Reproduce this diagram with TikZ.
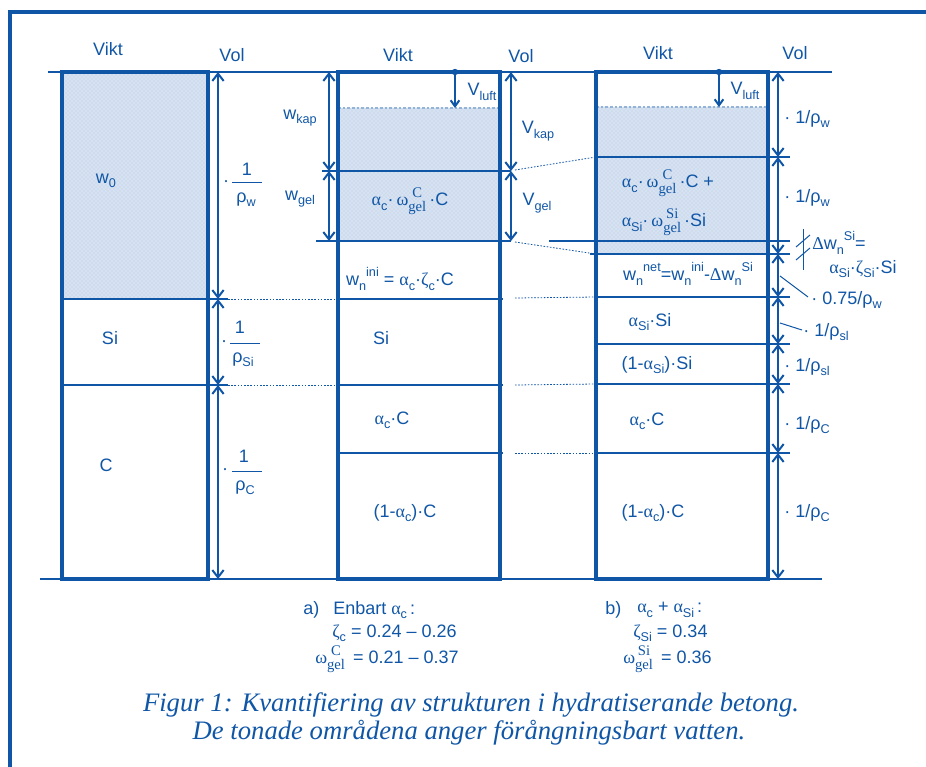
\documentclass[tikz,border=0pt]{standalone}
\usepackage{fontspec}
\setmainfont{Liberation Sans}
\newfontfamily\ser{Liberation Serif}
\usetikzlibrary{arrows.meta,patterns}
\definecolor{bl}{RGB}{16,86,166}
\definecolor{hatchc}{RGB}{214,226,241}
\newcommand\ga{{\ser α}}
\newcommand\gz{{\ser ζ}}
\newcommand\gw{{\ser ω}}
\newcommand\gD{{\ser Δ}}
\newcommand\SB[1]{\raisebox{-0.45ex}{\fontsize{9.5}{10}\selectfont #1}}
\newcommand\SP[1]{\raisebox{0.95ex}{\fontsize{9.5}{10}\selectfont #1}}
\newcommand\OMG[1]{\gw\raisebox{-0.6ex}{\shortstack{{\fontsize{11}{11}\selectfont\ser #1}\\{\fontsize{11}{11}\selectfont\ser gel}}}}
\begin{document}
\begin{tikzpicture}[x=0.75pt,y=-0.75pt,
 box/.style={draw=bl,line width=2.8pt},
 lvl/.style={draw=bl,line width=1pt},
 dotl/.style={draw=bl,line width=0.6pt,dash pattern=on 1.2pt off 1.2pt},
 dim/.style={draw=bl,line width=1.5pt,{Straight Barb[length=5.5pt,width=8.5pt]}-{Straight Barb[length=5.5pt,width=8.5pt]}},
 luft/.style={draw=bl,line width=1.5pt,-{Straight Barb[length=4.5pt,width=6.5pt]}},
 txt/.style={text=bl,inner sep=0pt,font=\fontsize{13.5}{16}\selectfont},
 wet/.style={fill=hatchc,postaction={pattern=crosshatch dots,pattern color=bl!30}},
 topdash/.style={draw=bl!45,line width=0.8pt,dash pattern=on 2pt off 1.5pt},
 frame/.style={draw=bl,line width=2.5pt},
 thinl/.style={draw=bl,line width=0.75pt}]
\useasboundingbox (0,0) rectangle (926,767);
% frame
\draw[frame] (926,12) -- (10,12) -- (10,767);
% reference lines
\draw[lvl] (48,72) -- (832,72);
\draw[lvl] (40,579) -- (822,579);

% ---------- column 1 ----------
\fill[wet] (62,72) rectangle (208,299);
\draw[lvl] (62,299) -- (228,299);
\draw[dotl] (228,299) -- (338,299);
\draw[lvl] (62,385) -- (228,385);
\draw[dotl] (228,385) -- (338,385);
\draw[box] (62,72) rectangle (208,579);
\foreach \n/\y in {0/72,1/299,2/385,3/579} \coordinate (A\n) at (218,\y);
\draw[dim] (A0) -- (A1);
\draw[dim] (A1) -- (A2);
\draw[dim] (A2) -- (A3);
\node[txt] (v1) at (108,49) {Vikt};
\node[txt] (o1) at (232,55) {Vol};
\node[txt] (w0) at (106,181) {w\SB{0}};
\node[txt] (si1) at (110,338) {Si};
\node[txt] (c1) at (106,465) {C};
% fractions
\node[txt] (d1) at (226,184) {·};
\node[txt] (n1) at (247,169) {1};
\draw[thinl] (232,183) -- (262,183);
\node[txt] (r1) at (246,200) {ρ\SB{w}};
\node[txt] (d2) at (224,344) {·};
\node[txt] (n2) at (240,327) {1};
\draw[thinl] (230,343) -- (260,343);
\node[txt] (r2) at (243,360) {ρ\SB{Si}};
\node[txt] (d3) at (225,472) {·};
\node[txt] (n3) at (244,456) {1};
\draw[thinl] (232,471) -- (262,471);
\node[txt] (r3) at (245,488) {ρ\SB{C}};

% ---------- column 2 ----------
\fill[wet] (338,108) rectangle (500,241);
\draw[topdash] (338,108) -- (500,108);
\draw[lvl] (322,171) -- (511,171);
\draw[lvl] (316,241) -- (511,241);
\draw[lvl] (338,299) -- (503,299);
\draw[dotl] (515,298) -- (596,297);
\draw[lvl] (338,385) -- (503,385);
\draw[dotl] (515,385) -- (596,384);
\draw[lvl] (338,453) -- (503,453);
\draw[dotl] (515,453) -- (596,453);
\draw[dotl] (515,170) -- (596,157);
\draw[dotl] (515,242) -- (596,254);
\draw[box] (338,72) rectangle (500,579);
\foreach \n/\y in {0/72,1/171,2/241} {\coordinate (B\n) at (329,\y); \coordinate (C\n) at (511,\y);}
\draw[dim] (B0) -- (B1);
\draw[dim] (B1) -- (B2);
\draw[dim] (C0) -- (C1);
\draw[dim] (C1) -- (C2);
\coordinate (L2a) at (455,72);
\coordinate (L2b) at (455,108);
\fill[bl] (L2a) circle (3.2);
\draw[luft] (L2a) -- (L2b);
\node[txt] (v2) at (398,55) {Vikt};
\node[txt] (o2) at (521,56) {Vol};
\node[txt] (wk) at (300,118) {w\SB{kap}};
\node[txt] (wg) at (300,199) {w\SB{gel}};
\node[txt] (vl2) at (482,92) {V\SB{luft}};
\node[txt] (vk) at (538,131) {V\SB{kap}};
\node[txt] (vg) at (537,203) {V\SB{gel}};
\node[txt] (g2) at (410,201) {\ga\SB{c}·\,\OMG{C}\,·C};
\node[txt] (ini) at (400,279) {w\SB{n}\SP{ini} = \ga\SB{c}·\gz\SB{c}·C};
\node[txt] (si2) at (381,338) {Si};
\node[txt] (ac2) at (392,420) {\ga\SB{c}·C};
\node[txt] (mc2) at (405,513) {(1-\ga\SB{c})·C};

% ---------- column 3 ----------
\fill[wet] (596,107) rectangle (768,254);
\draw[topdash] (596,107) -- (768,107);
\draw[lvl] (596,157) -- (790,157);
\draw[lvl] (549,241) -- (790,241);
\draw[lvl] (590,254) -- (790,254);
\draw[lvl] (596,297) -- (790,297);
\draw[lvl] (596,344) -- (790,344);
\draw[lvl] (596,384) -- (790,384);
\draw[lvl] (596,453) -- (790,453);
\draw[box] (596,72) rectangle (768,579);
\foreach \n/\y in {0/72,1/157,2/254,3/297,4/344,5/384,6/453,7/579} \coordinate (D\n) at (778,\y);
\draw[dim] (D0) -- (D1);
\draw[dim] (D1) -- (D2);
\draw[dim] (D2) -- (D3);
\draw[dim] (D3) -- (D4);
\draw[dim] (D4) -- (D5);
\draw[dim] (D5) -- (D6);
\draw[dim] (D6) -- (D7);
\coordinate (L3a) at (719,72);
\coordinate (L3b) at (719,107);
\fill[bl] (L3a) circle (3.2);
\draw[luft] (L3a) -- (L3b);
% delta tick marks
\draw[thinl] (803,229) -- (803,270);
\draw[thinl] (796,247) -- (810,235);
\draw[thinl] (796,260) -- (810,248);
% leaders
\draw[thinl] (780,276) -- (808,297);
\draw[thinl] (780,323) -- (802,330);
\node[txt] (v3) at (658,53) {Vikt};
\node[txt] (o3) at (795,53) {Vol};
\node[txt] (vl3) at (745,91) {V\SB{luft}};
\node[txt,anchor=west] (p1) at (784,119) {· 1/ρ\SB{w}};
\node[txt,anchor=west] (p2) at (784,198) {· 1/ρ\SB{w}};
\node[txt,anchor=west] (dw) at (812,243) {\gD w\SB{n}\SP{Si}=};
\node[txt,anchor=west] (dw2) at (829,269) {\ga\SB{Si}·\gz\SB{Si}·Si};
\node[txt,anchor=west] (p3) at (811,300) {· 0.75/ρ\SB{w}};
\node[txt,anchor=west] (p4) at (803,332) {· 1/ρ\SB{sl}};
\node[txt,anchor=west] (p5) at (784,367) {· 1/ρ\SB{sl}};
\node[txt,anchor=west] (p6) at (784,425) {· 1/ρ\SB{C}};
\node[txt,anchor=west] (p7) at (784,513) {· 1/ρ\SB{C}};
\node[txt] (g3a) at (668,183) {\ga\SB{c}·\,\OMG{C}\,·C +};
\node[txt] (g3b) at (664,222) {\ga\SB{Si}·\,\OMG{Si}\,·Si};
\node[txt] (net) at (688,274) {w\SB{n}\SP{net}=w\SB{n}\SP{ini}-\gD w\SB{n}\SP{Si}};
\node[txt] (as3) at (650,322) {\ga\SB{Si}·Si};
\node[txt] (ms3) at (657,365) {(1-\ga\SB{Si})·Si};
\node[txt] (ac3) at (647,421) {\ga\SB{c}·C};
\node[txt] (mc3) at (653,513) {(1-\ga\SB{c})·C};

% ---------- bottom text ----------
\node[txt,anchor=west] (ta) at (303,610) {a)};
\node[txt,anchor=west] (ta1) at (333,610) {Enbart \ga\SB{c}\,:};
\node[txt,anchor=west] (ta2) at (332,633) {\gz\SB{c} = 0.24 – 0.26};
\node[txt,anchor=west] (ta3) at (315,659) {\OMG{C}\, = 0.21 – 0.37};
\node[txt,anchor=west] (tb) at (605,610) {b)};
\node[txt,anchor=west] (tb1) at (637,610) {\ga\SB{c} + \ga\SB{Si}\,:};
\node[txt,anchor=west] (tb2) at (633,633) {\gz\SB{Si} = 0.34};
\node[txt,anchor=west] (tb3) at (623,659) {\OMG{Si}\, = 0.36};
\node[text=bl,inner sep=0pt,font=\ser\itshape\fontsize{20}{24}\selectfont] (cap1) at (471,705) {Figur 1: Kvantifiering av strukturen i hydratiserande betong.};
\node[text=bl,inner sep=0pt,font=\ser\itshape\fontsize{20}{24}\selectfont] (cap2) at (469,733) {De tonade områdena anger förångningsbart vatten.};
\end{tikzpicture}
\end{document}
